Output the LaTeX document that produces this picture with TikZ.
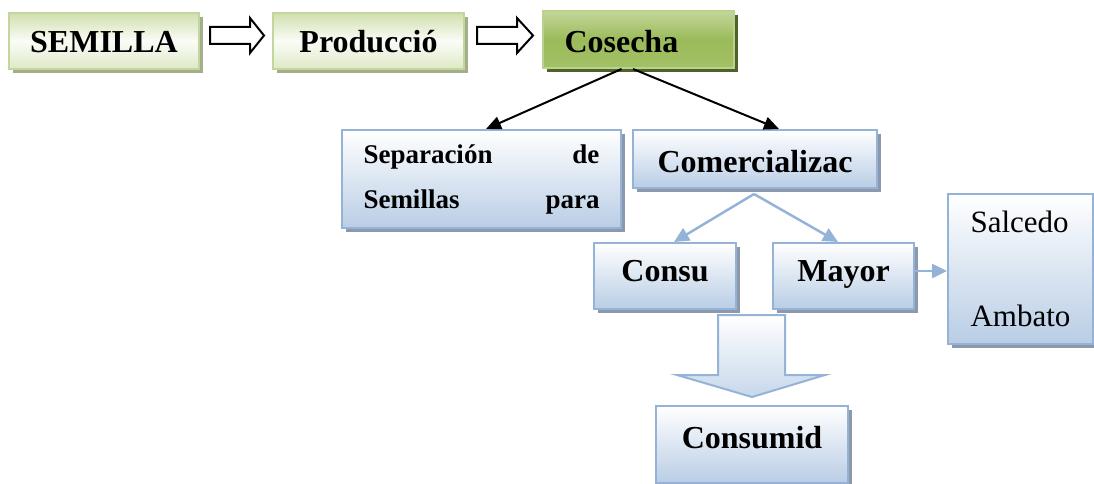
\documentclass[tikz,border=0pt]{standalone}
\usepackage{fontspec}
\setmainfont{Liberation Serif}
\usetikzlibrary{arrows.meta,shadows,calc}
\definecolor{gborder}{HTML}{C3D69B}
\definecolor{gfill}{HTML}{D0E0AE}
\definecolor{gshadow}{HTML}{A4AD8C}
\definecolor{cfill}{HTML}{9BBB59}
\definecolor{cshadow}{HTML}{4F6228}
\definecolor{bborder}{HTML}{95B3D7}
\definecolor{bfill}{HTML}{B9CDE5}
\definecolor{bshadow}{HTML}{8C99AC}
\newcommand\spreadfill{\hskip 0pt plus 1filll}
\tikzset{
  boxbase/.style={rectangle, anchor=north west, line width=2pt, inner sep=0pt},
  bl/.style={text height=#1, text depth=0pt},
  gbox/.style={boxbase, draw=gborder, top color=gfill, bottom color=gfill!70!white, middle color=white!90!gfill,
     drop shadow={shadow xshift=4pt, shadow yshift=-4pt, fill=gshadow, opacity=1},
     font=\fontsize{32}{36}\selectfont\bfseries},
  cbox/.style={boxbase, draw=gborder!80!cfill, top color=gborder, bottom color=cfill!80!gborder, middle color=cfill,
     drop shadow={shadow xshift=4pt, shadow yshift=-4pt, fill=cshadow, opacity=1},
     font=\fontsize{32}{36}\selectfont\bfseries},
  bbox/.style={boxbase, draw=bborder, top color=white, bottom color=bfill,
     drop shadow={shadow xshift=4pt, shadow yshift=-4pt, fill=bshadow, opacity=1},
     font=\fontsize{32}{36}\selectfont\bfseries},
  hollowarrow/.style={draw=black, line width=2pt, fill=white, line join=miter},
  blackconn/.style={draw=black, line width=2pt, -{Triangle[length=15pt,width=13pt]}},
  blueconn/.style={draw=bborder, line width=2.5pt, -{Triangle[length=15pt,width=14pt]}},
  bigarrow/.style={draw=bborder, line width=2pt, top color=white, bottom color=bfill!80!white},
}
\begin{document}
\begin{tikzpicture}[x=1pt,y=-1pt]
\useasboundingbox (0,0) rectangle (1094,484);

% top row
\node[gbox, bl=24pt, minimum width=190pt, minimum height=56pt] (sem) at (8,12) {SEMILLA};
\node[gbox, bl=24pt, minimum width=191pt, minimum height=56pt] (prod) at (272,12) {Producció};
\node[cbox, bl=27pt, minimum width=191pt, minimum height=57pt, text width=148pt, align=left] (cos) at (542,10) {Cosecha};

% hollow arrows
\draw[hollowarrow] (210,27) -- (250,27) -- (250,18) -- (264,35.5) -- (250,53) -- (250,44) -- (210,44) -- cycle;
\draw[hollowarrow] (477,27) -- (517,27) -- (517,18) -- (533,35.5) -- (517,53) -- (517,44) -- (477,44) -- cycle;

% second row
\node[bbox, minimum width=279pt, minimum height=98pt, text width=236pt, align=left,
      font=\fontsize{27}{45}\selectfont\bfseries] (sep) at (341,129)
      {Separación\spreadfill de\\Semillas\spreadfill para};
\node[bbox, bl=27pt, minimum width=244pt, minimum height=58pt] (com) at (632,129) {Comercializac};

% third row
\node[bbox, bl=10pt, minimum width=142pt, minimum height=66pt] (consu) at (593,242) {Consu};
\node[bbox, bl=10pt, minimum width=141pt, minimum height=66pt] (mayor) at (772,242) {Mayor};
\node[bbox, minimum width=145pt, minimum height=150pt, text width=100pt, align=left,
      font=\fontsize{31}{94}\selectfont] (salc) at (947,193) {Salcedo\\Ambato};

% bottom
\node[bbox, bl=7pt, minimum width=192pt, minimum height=77pt] (consumid) at (655,405) {Consumid};

% big down arrow
\draw[bigarrow] (718,315) -- (785,315) -- (785,375) -- (825,375) -- (752,397) -- (677,375) -- (718,375) -- cycle;

% connectors
\draw[blackconn] ([xshift=-17pt]cos.south) -- ([xshift=4.5pt]sep.north);
\draw[blackconn] ([xshift=-5.5pt]cos.south) -- ([xshift=24pt]com.north);
\coordinate (split) at ($(com.south)+(-1,5)$);
\draw[blueconn] (split) -- ([xshift=9pt]consu.north);
\draw[blueconn] (split) -- ([xshift=-5.5pt]mayor.north);
\draw[blueconn] ([yshift=5pt]mayor.east) -- ([yshift=5pt]mayor.east -| salc.west);
\end{tikzpicture}
\end{document}
